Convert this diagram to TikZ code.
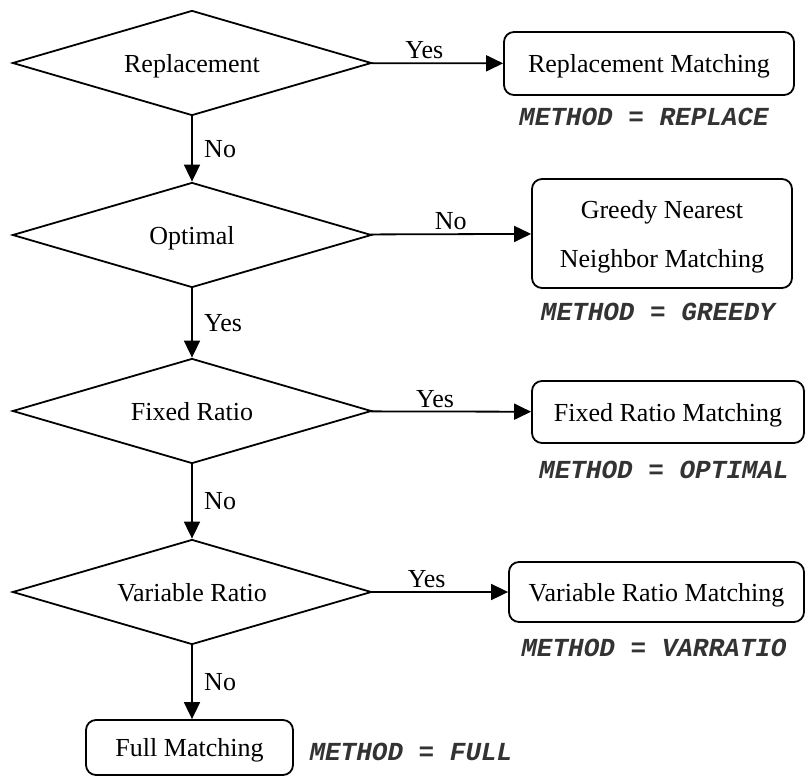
\documentclass[tikz,border=0pt]{standalone}
\usepackage{fontspec}
\setmainfont{Liberation Serif}
\setmonofont{Liberation Mono}
\usetikzlibrary{arrows.meta,positioning,shapes}

\begin{document}
\begin{tikzpicture}[x=1pt,y=-1pt,font=\fontsize{26}{31}\selectfont,
  test/.style={draw,diamond,shape aspect=3.4,line width=1.8pt,minimum width=359pt,minimum height=105pt,inner sep=0pt,text depth=0pt},
  result/.style={draw,rectangle,rounded corners=10pt,line width=1.8pt,inner sep=0pt,text depth=0pt},
  method/.style={font=\fontsize{26}{31}\selectfont\ttfamily\bfseries\itshape,text=black!80},
  flow/.style={-{Triangle[length=17pt,width=16pt]},line width=1.8pt}]
\useasboundingbox (0,0) rectangle (806,776);
\node[test] (t1) at (192,63) {Replacement};
\node[test] (t2) at (192,235) {Optimal};
\node[test] (t3) at (192,411) {Fixed Ratio};
\node[test] (t4) at (192,592) {Variable Ratio};
\node[result,minimum width=290pt,minimum height=63pt] (r1) at (649,63.5) {Replacement Matching};
\node[result,minimum width=260pt,minimum height=109pt,align=center,font=\fontsize{26}{49}\selectfont] (r2) at (662,233.5) {Greedy Nearest\\Neighbor Matching};
\node[result,minimum width=272pt,minimum height=62pt] (r3) at (668,412) {Fixed Ratio Matching};
\node[result,minimum width=295pt,minimum height=60pt] (r4) at (656.5,592) {Variable Ratio Matching};
\node[result,minimum width=207pt,minimum height=55pt] (r5) at (189.5,747.5) {Full Matching};
\node[method] (m1) at (644,117) {METHOD = REPLACE};
\node[method] (m2) at (658,312) {METHOD = GREEDY};
\node[method] (m3) at (664,470) {METHOD = OPTIMAL};
\node[method] (m4) at (654,648) {METHOD = VARRATIO};
\node[method,anchor=west] (m5) at (306,752) {METHOD = FULL};
\draw[flow] (t1) -- node[above=0pt,pos=0.4] {Yes} (r1);
\draw[flow] (t2) -- node[above=0pt,pos=0.5] {No} (r2);
\draw[flow] (t3) -- node[above=0pt,pos=0.4] {Yes} (r3);
\draw[flow] (t4) -- node[above=0pt,pos=0.4] {Yes} (r4);
\draw[flow] (t1) -- node[right=8pt] {No} (t2);
\draw[flow] (t2) -- node[right=8pt] {Yes} (t3);
\draw[flow] (t3) -- node[right=8pt] {No} (t4);
\draw[flow] (t4) -- node[right=8pt] {No} (t4.south |- r5.north);
\end{tikzpicture}
\end{document}
